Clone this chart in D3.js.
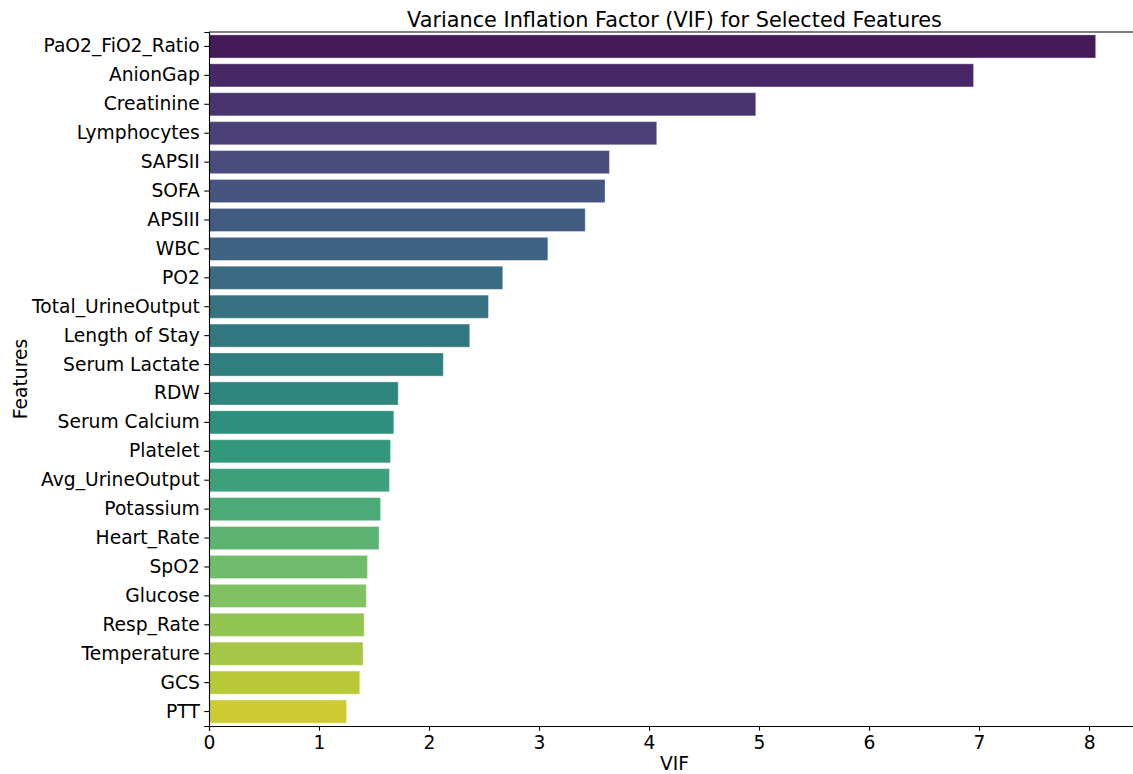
<!DOCTYPE html>
<html lang="en">
<head>
    <meta charset="UTF-8">
    <script src="https://d3js.org/d3.v7.min.js"></script>
    <title>VIF for Selected Features</title>
    <style>
        body { margin: 0; background: #fff; }
        svg text { font-family: "DejaVu Sans", sans-serif; fill: #000; }
    </style>
</head>
<body>
<svg id="chart"></svg>
<script>
    // data
    const features = ["PaO2_FiO2_Ratio", "AnionGap", "Creatinine", "Lymphocytes", "SAPSII", "SOFA",
        "APSIII", "WBC", "PO2", "Total_UrineOutput", "Length of Stay", "Serum Lactate", "RDW",
        "Serum Calcium", "Platelet", "Avg_UrineOutput", "Potassium", "Heart_Rate", "SpO2",
        "Glucose", "Resp_Rate", "Temperature", "GCS", "PTT"];
    const vif = [8.06, 6.95, 4.97, 4.07, 3.64, 3.60, 3.42, 3.08, 2.67, 2.54, 2.37, 2.13, 1.72,
        1.68, 1.65, 1.64, 1.56, 1.545, 1.44, 1.43, 1.41, 1.40, 1.37, 1.25];
    const xTicks = [0, 1, 2, 3, 4, 5, 6, 7, 8];

    const w = 1133, h = 774;
    const padLeft = 209, padRight = 1140, padTop = 32, padBottom = 726;
    const fs = 18.7;

    const svg = d3.select("#chart").attr("width", w).attr("height", h);

    const xScale = d3.scaleLinear()
        .domain([0, d3.max(vif) * 1.05])
        .range([padLeft, padRight]);

    const yScale = d3.scaleBand()
        .domain(features)
        .range([padTop, padBottom])
        .paddingInner(0.2)
        .paddingOuter(0.1);

    // seaborn style palette: viridis sampled, then desaturated by 0.75
    const colour = i => {
        const c = d3.hsl(d3.interpolateViridis((i + 1) / (features.length + 1)));
        c.s *= 0.75;
        return c.formatHex();
    };

    svg.selectAll("rect.bar")
        .data(features)
        .enter()
        .append("rect")
        .attr("class", "bar")
        .attr("x", xScale(0))
        .attr("y", d => yScale(d))
        .attr("width", (d, i) => xScale(vif[i]) - xScale(0))
        .attr("height", yScale.bandwidth())
        .attr("fill", (d, i) => colour(i))
        .attr("stroke", "#fff")
        .attr("stroke-opacity", 0.35)
        .attr("stroke-width", 1);

    // x axis
    const xAxis = svg.append("g")
        .attr("transform", "translate(0," + padBottom + ")")
        .call(d3.axisBottom(xScale).tickValues(xTicks).tickSize(4.7).tickPadding(4.7));
    xAxis.selectAll("text").attr("font-size", fs);

    // y axis
    const yAxis = svg.append("g")
        .attr("transform", "translate(" + padLeft + ",0)")
        .call(d3.axisLeft(yScale).tickSize(4.7).tickPadding(4.5));
    yAxis.selectAll("text").attr("font-size", fs);

    svg.selectAll(".domain").attr("stroke", "#000").attr("stroke-width", 1.1);
    svg.selectAll(".tick line").attr("stroke", "#000").attr("stroke-width", 1.1);
    svg.selectAll(".tick text").attr("fill", "#000").style("font-family", "DejaVu Sans");

    // top spine
    svg.append("line")
        .attr("x1", padLeft).attr("x2", w)
        .attr("y1", padTop).attr("y2", padTop)
        .attr("stroke", "#000").attr("stroke-width", 1.1);

    // labels
    svg.append("text")
        .attr("x", (padLeft + padRight) / 2).attr("y", 27)
        .attr("text-anchor", "middle")
        .attr("font-size", 20.8)
        .text("Variance Inflation Factor (VIF) for Selected Features");

    svg.append("text")
        .attr("x", (padLeft + padRight) / 2).attr("y", 770)
        .attr("text-anchor", "middle")
        .attr("font-size", fs)
        .text("VIF");

    svg.append("text")
        .attr("transform", "translate(27," + ((padTop + padBottom) / 2) + ") rotate(-90)")
        .attr("text-anchor", "middle")
        .attr("font-size", fs)
        .text("Features");
</script>
</body>
</html>
